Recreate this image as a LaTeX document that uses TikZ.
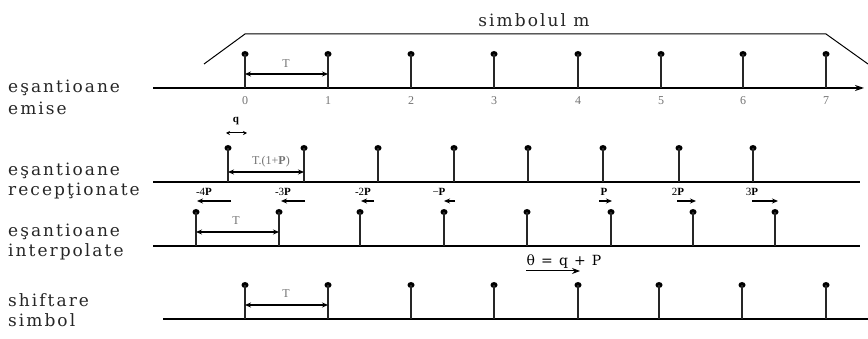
\documentclass[tikz,border=0pt]{standalone}
\usepackage{fontspec}
\setmainfont{Liberation Serif}
\newfontfamily\lblfont[LetterSpace=12]{DejaVu Serif}
\usetikzlibrary{arrows.meta}
\tikzset{
  axisline/.style={line width=1.3pt, black},
  stemline/.style={line width=1.8pt, black!85},
  dotmark/.style={ellipse, fill=black, inner sep=0pt, minimum width=7pt, minimum height=6pt},
  spanarrow/.style={line width=1.1pt, {Stealth[length=6pt,width=5pt]}-{Stealth[length=6pt,width=5pt]}},
  shiftarrow/.style={line width=1.1pt, -{Stealth[length=6pt,width=5pt]}},
  rowlabel/.style={anchor=west, font=\lblfont\fontsize{17}{19}\selectfont, inner sep=0pt, align=left, text=black!85},
  smalllbl/.style={font=\fontsize{12}{13}\selectfont, inner sep=0pt, text=black!55},
  offlbl/.style={font=\fontsize{11}{12}\selectfont, inner sep=0pt}
}
\usetikzlibrary{shapes.geometric}
\begin{document}
\begin{tikzpicture}[x=1pt,y=-1pt]
\useasboundingbox (0,0) rectangle (868,339);

% ---------- row labels
\node[rowlabel] (l1a) at (8,88) {eşantioane};
\node[rowlabel] (l1b) at (8,108) {emise};
\node[rowlabel] (l2a) at (8,171) {eşantioane};
\node[rowlabel] (l2b) at (8,191) {recepţionate};
\node[rowlabel] (l3a) at (8,232) {eşantioane};
\node[rowlabel] (l3b) at (8,252) {interpolate};
\node[rowlabel] (l4a) at (8,300) {shiftare};
\node[rowlabel] (l4b) at (8,320) {simbol};

% ---------- symbol envelope
\coordinate (e0) at (204,64);
\coordinate (e1) at (245,34);
\coordinate (e2) at (826,34);
\coordinate (e3) at (868,64);
\draw[line width=1pt] (e0) -- (e1) -- (e2) -- (e3);
\node[font=\lblfont\fontsize{17}{19}\selectfont, inner sep=0pt, text=black!85] (sym) at (534,20) {simbolul m};

% ---------- row 1: emise
\coordinate (a1s) at (153,88);
\coordinate (a1e) at (864,88);
\draw[axisline, -{Stealth[length=9pt,width=6pt]}] (a1s) -- (a1e);
\foreach \x [count=\i from 0] in {245,328,411,494,578,661,743,826}{
  \coordinate (r1b\i) at (\x,88);
  \node[dotmark] (r1t\i) at (\x,54) {};
  \draw[stemline] (r1b\i) -- (r1t\i.center);
  \node[smalllbl] (n\i) at (\x,101) {\i};
}
\coordinate (t1a) at (245,74);
\coordinate (t1b) at (328,74);
\draw[spanarrow] (t1a) -- (t1b);
\node[smalllbl] (t1l) at (286,64) {T};

% ---------- row 2: receptionate
\coordinate (a2s) at (153,182);
\coordinate (a2e) at (860,182);
\draw[axisline] (a2s) -- (a2e);
\foreach \x [count=\i from 0] in {228,304,378,454,528,603,679,753}{
  \coordinate (r2b\i) at (\x,182);
  \node[dotmark] (r2t\i) at (\x,148) {};
  \draw[stemline] (r2b\i) -- (r2t\i.center);
}
\coordinate (qa) at (226,133);
\coordinate (qb) at (247,133);
\draw[line width=1pt, {Stealth[length=4pt,width=4pt]}-{Stealth[length=4pt,width=4pt]}] (qa) -- (qb);
\node[offlbl, font=\bfseries\fontsize{11}{12}\selectfont] (ql) at (236,121) {q};
\coordinate (t2a) at (228,172);
\coordinate (t2b) at (304,172);
\draw[spanarrow] (t2a) -- (t2b);
\node[offlbl, font=\fontsize{12}{13}\selectfont, text=black!55] (t2l) at (271,162) {T.(1+\textbf{P})};

% offsets
\node[offlbl] (o1) at (204,192) {-4\textbf{P}};
\coordinate (o1a) at (231,201); \coordinate (o1b) at (197,201);
\draw[shiftarrow] (o1a) -- (o1b);
\node[offlbl] (o2) at (283,192) {-3\textbf{P}};
\coordinate (o2a) at (305,201); \coordinate (o2b) at (281,201);
\draw[shiftarrow] (o2a) -- (o2b);
\node[offlbl] (o3) at (363,192) {-2\textbf{P}};
\coordinate (o3a) at (374,201); \coordinate (o3b) at (361,201);
\draw[shiftarrow] (o3a) -- (o3b);
\node[offlbl] (o4) at (439,192) {\textminus\textbf{P}};
\coordinate (o4a) at (455,201); \coordinate (o4b) at (444,201);
\draw[shiftarrow] (o4a) -- (o4b);
\node[offlbl] (o5) at (604,192) {\textbf{P}};
\coordinate (o5a) at (599,201); \coordinate (o5b) at (612,201);
\draw[shiftarrow] (o5a) -- (o5b);
\node[offlbl] (o6) at (678,192) {2\textbf{P}};
\coordinate (o6a) at (677,201); \coordinate (o6b) at (696,201);
\draw[shiftarrow] (o6a) -- (o6b);
\node[offlbl] (o7) at (752,192) {3\textbf{P}};
\coordinate (o7a) at (752,201); \coordinate (o7b) at (778,201);
\draw[shiftarrow] (o7a) -- (o7b);

% ---------- row 3: interpolate
\coordinate (a3s) at (153,246);
\coordinate (a3e) at (860,246);
\draw[axisline] (a3s) -- (a3e);
\foreach \x [count=\i from 0] in {196,279,360,444,527,611,693,775}{
  \coordinate (r3b\i) at (\x,246);
  \node[dotmark] (r3t\i) at (\x,212) {};
  \draw[stemline] (r3b\i) -- (r3t\i.center);
}
\coordinate (t3a) at (196,232);
\coordinate (t3b) at (279,232);
\draw[spanarrow] (t3a) -- (t3b);
\node[smalllbl] (t3l) at (236,221) {T};

% theta
\node[inner sep=0pt, font=\lblfont\fontsize{14}{15}\selectfont] (th) at (564,262) {θ = q + P};
\coordinate (tha) at (526,271);
\coordinate (thb) at (580,271);
\draw[line width=1pt, -{Stealth[length=8pt,width=6pt]}] (tha) -- (thb);

% ---------- row 4: shiftare simbol
\coordinate (a4s) at (163,319);
\coordinate (a4e) at (868,319);
\draw[axisline] (a4s) -- (a4e);
\foreach \x [count=\i from 0] in {245,328,411,494,578,659,742,826}{
  \coordinate (r4b\i) at (\x,319);
  \node[dotmark] (r4t\i) at (\x,285) {};
  \draw[stemline] (r4b\i) -- (r4t\i.center);
}
\coordinate (t4a) at (245,305);
\coordinate (t4b) at (328,305);
\draw[spanarrow] (t4a) -- (t4b);
\node[smalllbl] (t4l) at (286,294) {T};
\end{tikzpicture}
\end{document}
